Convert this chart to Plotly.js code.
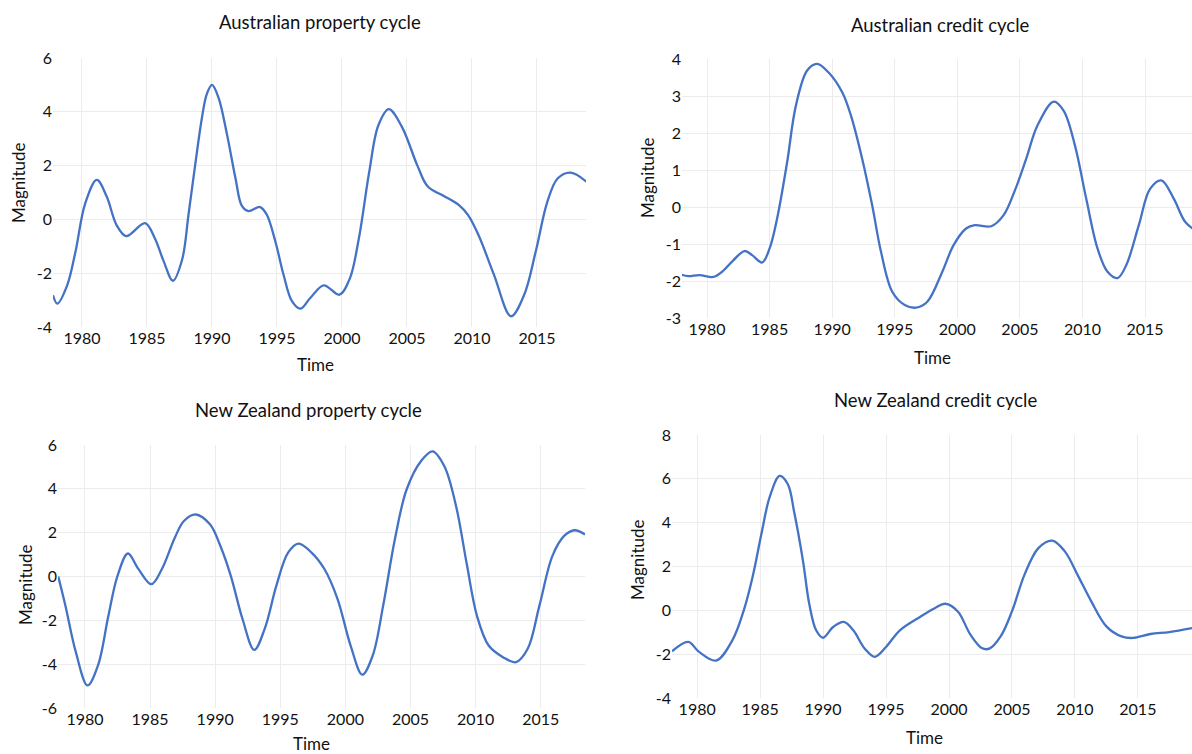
<!DOCTYPE html>
<html>
<head>
<meta charset="utf-8">
<script src="https://cdn.plot.ly/plotly-3.0.1.min.js"></script>
<style>
  html, body { margin: 0; padding: 0; background: #ffffff; }
  #chart { width: 1192px; height: 754px; }
</style>
</head>
<body>
<div id="chart"></div>
<script>
// ---- Data ----
const chartTitles = [
  "Australian property cycle",
  "Australian credit cycle",
  "New Zealand property cycle",
  "New Zealand credit cycle"
];
const xTitle = "Time";
const yTitle = "Magnitude";
const tickYears = [1980, 1985, 1990, 1995, 2000, 2005, 2010, 2015];
const yTicksAuProperty = [-4, -2, 0, 2, 4, 6];
const yTicksAuCredit = [-3, -2, -1, 0, 1, 2, 3, 4];
const yTicksNzProperty = [-6, -4, -2, 0, 2, 4, 6];
const yTicksNzCredit = [-4, -2, 0, 2, 4, 6, 8];

const auPropertyYears = [1977.77, 1978.1, 1978.86, 1979.5, 1980.25, 1981.14, 1981.9, 1982.66, 1983.4, 1984.85, 1985.6, 1986.28, 1987.0, 1987.7, 1988.2, 1988.7, 1989.23, 1989.6, 1990.0, 1990.5, 1991.15, 1991.8, 1992.3, 1992.8, 1993.7, 1994.2, 1994.87, 1995.5, 1996.15, 1996.8, 1997.56, 1998.6, 1999.8, 2000.6, 2001.3, 2002.1, 2002.8, 2003.6, 2004.6, 2005.8, 2006.6, 2007.8, 2009.0, 2009.7, 2010.5, 2011.7, 2013.0, 2014.0, 2014.9, 2015.8, 2016.6, 2017.6, 2018.8];
const auPropertyValues = [-2.82, -3.13, -2.45, -1.2, 0.6, 1.47, 0.85, -0.21, -0.62, -0.14, -0.7, -1.55, -2.28, -1.5, 0.2, 2.0, 3.79, 4.66, 5.0, 4.53, 3.17, 1.55, 0.5, 0.31, 0.46, 0.19, -0.81, -2.05, -3.04, -3.32, -2.92, -2.45, -2.8, -2.2, -0.7, 1.78, 3.5, 4.1, 3.45, 2.0, 1.22, 0.88, 0.53, 0.16, -0.58, -2.07, -3.6, -2.82, -1.2, 0.66, 1.53, 1.74, 1.4];

const auCreditYears = [1977.95, 1978.5, 1979.4, 1980.5, 1981.2, 1982.1, 1983.0, 1983.6, 1984.4, 1985.0, 1985.6, 1986.4, 1987.1, 1988.0, 1988.8, 1989.7, 1990.8, 1991.5, 1992.4, 1993.2, 1993.9, 1994.8, 1995.8, 1996.7, 1997.6, 1998.8, 1999.7, 2000.7, 2001.4, 2002.7, 2003.7, 2004.6, 2005.5, 2006.4, 2007.7, 2008.5, 2009.4, 2010.3, 2011.2, 2012.0, 2012.8, 2013.5, 2014.5, 2015.4, 2016.3, 2017.3, 2018.2, 2019.0];
const auCreditValues = [-1.83, -1.87, -1.84, -1.89, -1.75, -1.44, -1.19, -1.3, -1.5, -1.12, -0.31, 1.21, 2.74, 3.69, 3.87, 3.64, 3.1, 2.47, 1.3, 0.04, -1.21, -2.29, -2.65, -2.72, -2.56, -1.75, -1.03, -0.58, -0.49, -0.52, -0.22, 0.45, 1.3, 2.2, 2.85, 2.6, 1.66, 0.22, -1.12, -1.75, -1.92, -1.57, -0.49, 0.49, 0.72, 0.22, -0.4, -0.63];

const nzPropertyYears = [1977.95, 1978.5, 1979.3, 1980.2, 1981.0, 1981.8, 1982.5, 1983.3, 1984.1, 1985.1, 1985.9, 1986.9, 1987.6, 1988.5, 1989.6, 1990.4, 1991.2, 1992.1, 1993.0, 1993.8, 1994.7, 1995.6, 1996.4, 1997.4, 1998.4, 1999.4, 2000.4, 2001.3, 2002.1, 2002.9, 2003.8, 2004.7, 2005.8, 2006.7, 2007.6, 2008.5, 2009.3, 2010.1, 2011.0, 2012.1, 2013.1, 2014.0, 2014.9, 2015.9, 2016.8, 2017.6, 2018.4];
const nzPropertyValues = [0.0, -1.33, -3.45, -4.97, -4.06, -1.79, 0.03, 1.05, 0.35, -0.35, 0.33, 1.77, 2.53, 2.83, 2.38, 1.39, 0.03, -1.94, -3.35, -2.39, -0.42, 1.09, 1.5, 1.09, 0.33, -1.03, -3.15, -4.48, -3.6, -1.33, 1.7, 3.97, 5.26, 5.71, 5.03, 3.21, 0.64, -1.79, -3.15, -3.68, -3.91, -3.3, -1.33, 0.94, 1.85, 2.11, 1.92];

const nzCreditYears = [1978.0, 1979.3, 1980.1, 1981.5, 1982.8, 1983.7, 1984.4, 1985.1, 1985.75, 1986.55, 1987.2, 1987.7, 1988.4, 1988.9, 1989.45, 1990.0, 1990.8, 1991.65, 1992.4, 1993.3, 1994.1, 1995.0, 1996.1, 1997.7, 1998.9, 1999.7, 2000.7, 2001.7, 2002.6, 2003.2, 2004.1, 2005.0, 2006.0, 2007.1, 2008.2, 2009.2, 2010.2, 2011.3, 2012.5, 2013.7, 2014.6, 2016.0, 2017.5, 2019.3];
const nzCreditValues = [-1.87, -1.44, -1.87, -2.29, -1.36, 0.0, 1.52, 3.48, 5.15, 6.13, 5.75, 4.5, 2.27, 0.3, -0.91, -1.25, -0.76, -0.53, -0.91, -1.74, -2.12, -1.67, -0.91, -0.3, 0.11, 0.3, -0.05, -1.11, -1.72, -1.75, -1.19, -0.05, 1.63, 2.84, 3.18, 2.69, 1.63, 0.41, -0.73, -1.19, -1.26, -1.08, -0.99, -0.81];

// ---- Styling / layout ----
const W = 1192, H = 754;
const LINE = "#4472C4";
const FONT = "Lato, 'Open Sans', sans-serif";
const TXT = "#111111";
const GRID = "#ececec";

const series = [
  { x: auPropertyYears, y: auPropertyValues, yt: yTicksAuProperty },
  { x: auCreditYears, y: auCreditValues, yt: yTicksAuCredit },
  { x: nzPropertyYears, y: nzPropertyValues, yt: yTicksNzProperty },
  { x: nzCreditYears, y: nzCreditValues, yt: yTicksNzCredit }
];

// panel geometry in pixels: left, right, top(y at ymax), bottom(y at ymin)
const panels = [
  { l: 53,  r: 586,  t: 58,  b: 327, xr: [1977.77, 2018.77], yr: [-4, 6], title: [320, 22],  xt: [315, 364], yt: [18, 183] },
  { l: 682, r: 1192, t: 59,  b: 318, xr: [1978.0, 2018.75],  yr: [-3, 4], title: [940, 25],  xt: [932, 357], yt: [648, 178] },
  { l: 58,  r: 585,  t: 445, b: 708, xr: [1977.93, 2018.4],  yr: [-6, 6], title: [308, 410], xt: [311, 743], yt: [25, 585] },
  { l: 672, r: 1192, t: 435, b: 698, xr: [1978.0, 2019.3],   yr: [-4, 8], title: [935, 400], xt: [925, 737], yt: [637, 560] }
];

const traces = [];
const layout = {
  width: W, height: H,
  margin: { l: 0, r: 0, t: 0, b: 0, pad: 0 },
  paper_bgcolor: "#ffffff",
  plot_bgcolor: "#ffffff",
  showlegend: false,
  font: { family: FONT, color: TXT, size: 16 },
  annotations: []
};

panels.forEach((p, i) => {
  const n = i + 1;
  const xa = n === 1 ? "x" : "x" + n;
  const ya = n === 1 ? "y" : "y" + n;
  traces.push({
    type: "scatter", mode: "lines",
    x: series[i].x, y: series[i].y,
    xaxis: xa, yaxis: ya,
    line: { color: LINE, width: 2.3, shape: "spline", smoothing: 1.0 },
    hoverinfo: "x+y"
  });
  layout[n === 1 ? "xaxis" : "xaxis" + n] = {
    domain: [p.l / W, p.r / W],
    range: p.xr,
    anchor: ya,
    tickmode: "array",
    tickvals: tickYears,
    ticktext: tickYears.map(String),
    showgrid: true, gridcolor: GRID, gridwidth: 1,
    zeroline: false, showline: false, ticks: "",
    tickfont: { family: FONT, size: 16, color: TXT },
    fixedrange: true
  };
  layout[n === 1 ? "yaxis" : "yaxis" + n] = {
    domain: [1 - p.b / H, 1 - p.t / H],
    range: p.yr,
    anchor: xa,
    tickmode: "array",
    tickvals: series[i].yt,
    ticktext: series[i].yt.map(String),
    showgrid: true, gridcolor: GRID, gridwidth: 1,
    zeroline: false, showline: false, ticks: "",
    tickfont: { family: FONT, size: 16, color: TXT },
    fixedrange: true
  };
  layout.annotations.push({
    text: chartTitles[i], xref: "paper", yref: "paper",
    x: p.title[0] / W, y: 1 - p.title[1] / H,
    xanchor: "center", yanchor: "middle", showarrow: false,
    font: { family: FONT, size: 18.5, color: TXT }
  });
  layout.annotations.push({
    text: xTitle, xref: "paper", yref: "paper",
    x: p.xt[0] / W, y: 1 - p.xt[1] / H,
    xanchor: "center", yanchor: "middle", showarrow: false,
    font: { family: FONT, size: 17, color: TXT }
  });
  layout.annotations.push({
    text: yTitle, xref: "paper", yref: "paper",
    x: p.yt[0] / W, y: 1 - p.yt[1] / H,
    xanchor: "center", yanchor: "middle", showarrow: false, textangle: -90,
    font: { family: FONT, size: 17, color: TXT }
  });
});

Plotly.newPlot("chart", traces, layout, { staticPlot: true, displayModeBar: false });
</script>
</body>
</html>
